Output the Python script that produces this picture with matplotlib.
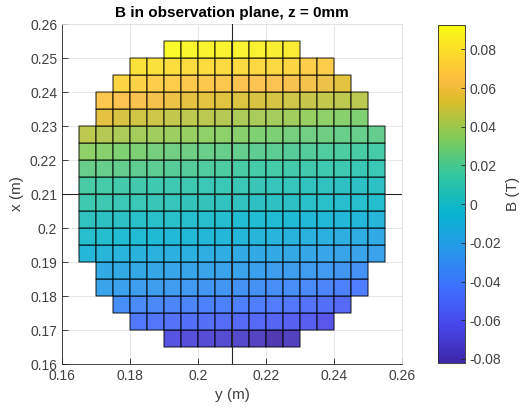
import numpy as np
import matplotlib.pyplot as plt
from matplotlib.colors import LinearSegmentedColormap, Normalize
from matplotlib.cm import ScalarMappable

plt.rcParams['font.family'] = ['Liberation Sans', 'DejaVu Sans']

# MATLAB parula anchors (position, rgb)
parula_pts = [
    (0.000, (0.2422, 0.1504, 0.6603)),
    (0.111, (0.2803, 0.2782, 0.9221)),
    (0.222, (0.2440, 0.4358, 0.9988)),
    (0.333, (0.1540, 0.5902, 0.9218)),
    (0.444, (0.0297, 0.7082, 0.8163)),
    (0.556, (0.1938, 0.7758, 0.6251)),
    (0.667, (0.5044, 0.7993, 0.3480)),
    (0.778, (0.8634, 0.7406, 0.1596)),
    (0.835, (0.9850, 0.7350, 0.2500)),
    (0.889, (0.9892, 0.8136, 0.1885)),
    (1.000, (0.9769, 0.9839, 0.0805)),
]
parula = LinearSegmentedColormap.from_list('parula', parula_pts, N=256)

cell = 0.005
# rows from x = 0.165 (bottom) upward, first value of each row sits at y = row_y0
row_y0 = [0.19, 0.18, 0.175, 0.17, 0.17, 0.165, 0.165, 0.165, 0.165,
          0.165, 0.165, 0.165, 0.165, 0.17, 0.17, 0.175, 0.18, 0.19]
B_rows = [
    [-0.066, -0.068, -0.070, -0.071, -0.073, -0.076, -0.0821, -0.078],
    [-0.045, -0.047, -0.048, -0.050, -0.051, -0.052, -0.053, -0.054, -0.056, -0.058, -0.060, -0.063],
    [-0.034, -0.036, -0.037, -0.038, -0.039, -0.040, -0.041, -0.042, -0.043, -0.044, -0.046, -0.048, -0.050, -0.053],
    [-0.022, -0.024, -0.025, -0.026, -0.027, -0.028, -0.029, -0.030, -0.031, -0.032, -0.033, -0.034, -0.036, -0.038, -0.040, -0.043],
    [-0.016, -0.017, -0.018, -0.019, -0.020, -0.021, -0.022, -0.023, -0.023, -0.024, -0.025, -0.026, -0.027, -0.028, -0.030, -0.032],
    [-0.008, -0.009, -0.010, -0.011, -0.012, -0.013, -0.013, -0.014, -0.015, -0.016, -0.017, -0.017, -0.018, -0.019, -0.020, -0.021, -0.022, -0.023],
    [-0.001, -0.002, -0.003, -0.004, -0.005, -0.006, -0.006, -0.007, -0.008, -0.008, -0.009, -0.010, -0.011, -0.012, -0.013, -0.014, -0.015, -0.016],
    [0.004, 0.003, 0.002, 0.001, 0.001, 0.000, -0.001, -0.001, -0.002, -0.003, -0.003, -0.004, -0.005, -0.006, -0.006, -0.007, -0.008, -0.009],
    [0.012, 0.011, 0.010, 0.009, 0.008, 0.007, 0.006, 0.006, 0.005, 0.004, 0.003, 0.003, 0.002, 0.001, 0.000, -0.001, -0.001, -0.002],
    [0.016, 0.015, 0.014, 0.013, 0.012, 0.011, 0.011, 0.010, 0.009, 0.009, 0.008, 0.007, 0.007, 0.005, 0.004, 0.003, 0.002, 0.002],
    [0.025, 0.024, 0.023, 0.022, 0.021, 0.020, 0.019, 0.018, 0.017, 0.016, 0.015, 0.015, 0.014, 0.013, 0.012, 0.011, 0.010, 0.009],
    [0.035, 0.033, 0.031, 0.030, 0.028, 0.027, 0.026, 0.025, 0.024, 0.023, 0.022, 0.021, 0.020, 0.019, 0.018, 0.017, 0.016, 0.015],
    [0.046, 0.044, 0.042, 0.040, 0.039, 0.038, 0.037, 0.035, 0.034, 0.033, 0.031, 0.030, 0.028, 0.027, 0.026, 0.025, 0.024, 0.023],
    [0.056, 0.052, 0.050, 0.049, 0.047, 0.046, 0.045, 0.044, 0.042, 0.041, 0.040, 0.039, 0.037, 0.035, 0.033, 0.031],
    [0.066, 0.064, 0.062, 0.060, 0.058, 0.056, 0.055, 0.054, 0.053, 0.052, 0.051, 0.049, 0.048, 0.047, 0.046, 0.045],
    [0.074, 0.072, 0.070, 0.069, 0.068, 0.067, 0.066, 0.065, 0.064, 0.064, 0.062, 0.060, 0.059, 0.055],
    [0.080, 0.079, 0.078, 0.077, 0.077, 0.076, 0.076, 0.075, 0.075, 0.074, 0.070, 0.069],
    [0.0926, 0.090, 0.089, 0.089, 0.088, 0.087, 0.086, 0.085],
]

xticks = [0.16, 0.18, 0.20, 0.22, 0.24, 0.26]
xticklabels = ['0.16', '0.18', '0.2', '0.22', '0.24', '0.26']
yticks = [0.16, 0.17, 0.18, 0.19, 0.20, 0.21, 0.22, 0.23, 0.24, 0.25, 0.26]
yticklabels = ['0.16', '0.17', '0.18', '0.19', '0.2', '0.21', '0.22', '0.23', '0.24', '0.25', '0.26']
cticks = [-0.08, -0.06, -0.04, -0.02, 0, 0.02, 0.04, 0.06, 0.08]
cticklabels = ['-0.08', '-0.06', '-0.04', '-0.02', '0', '0.02', '0.04', '0.06', '0.08']

n = len(B_rows)
edges = 0.165 + cell * np.arange(n + 1)
B = np.full((n, n), np.nan)
for i, (y0, vals) in enumerate(zip(row_y0, B_rows)):
    j0 = int(round((y0 - 0.165) / cell))
    B[i, j0:j0 + len(vals)] = vals

dark = '#262626'
fig = plt.figure(figsize=(5.21, 4.12), dpi=100)
ax = fig.add_axes([0.119, 0.1165, 0.6526, 0.8252])
cax = fig.add_axes([0.8407, 0.1189, 0.0518, 0.8204])

norm = Normalize(vmin=np.nanmin(B), vmax=np.nanmax(B))
# pcolor skips masked cells, so no empty boxes outside the disc
ax.pcolor(edges, edges, np.ma.masked_invalid(B), cmap=parula, norm=norm,
          edgecolors='k', linewidth=0.7, alpha=0.9, zorder=2)
ax.axhline(0.21, color=dark, lw=0.8, zorder=3)
ax.axvline(0.21, color=dark, lw=0.8, zorder=3)

ax.set_xlim(0.16, 0.26)
ax.set_ylim(0.16, 0.26)
ax.set_xticks(xticks, xticklabels)
ax.set_yticks(yticks, yticklabels)
ax.grid(True, color='#e3e3e3', lw=0.6)
ax.set_axisbelow(True)
ax.tick_params(direction='in', length=4, width=0.6, colors=dark, labelsize=10,
               labelcolor='#404040')
for s in ['left', 'bottom']:
    ax.spines[s].set_color(dark)
    ax.spines[s].set_linewidth(0.6)
for s in ['top', 'right']:
    ax.spines[s].set_color('#e3e3e3')
    ax.spines[s].set_linewidth(0.6)
ax.set_xlabel('y (m)', fontsize=11, color='#404040', labelpad=4)
ax.set_ylabel('x (m)', fontsize=11, color='#404040', labelpad=4)
ax.set_title('B in observation plane, z = 0mm', fontsize=11, fontweight='bold', pad=5)

cb = fig.colorbar(ScalarMappable(norm=norm, cmap=parula), cax=cax)
cb.set_ticks(cticks, labels=cticklabels)
cb.ax.tick_params(direction='in', length=3, width=0.6, colors=dark, labelsize=10,
                  labelcolor='#404040')
cb.outline.set_edgecolor(dark)
cb.outline.set_linewidth(0.6)
cb.set_label('B (T)', fontsize=11, color='#404040', labelpad=3)

fig.savefig('out.png', dpi=100)
